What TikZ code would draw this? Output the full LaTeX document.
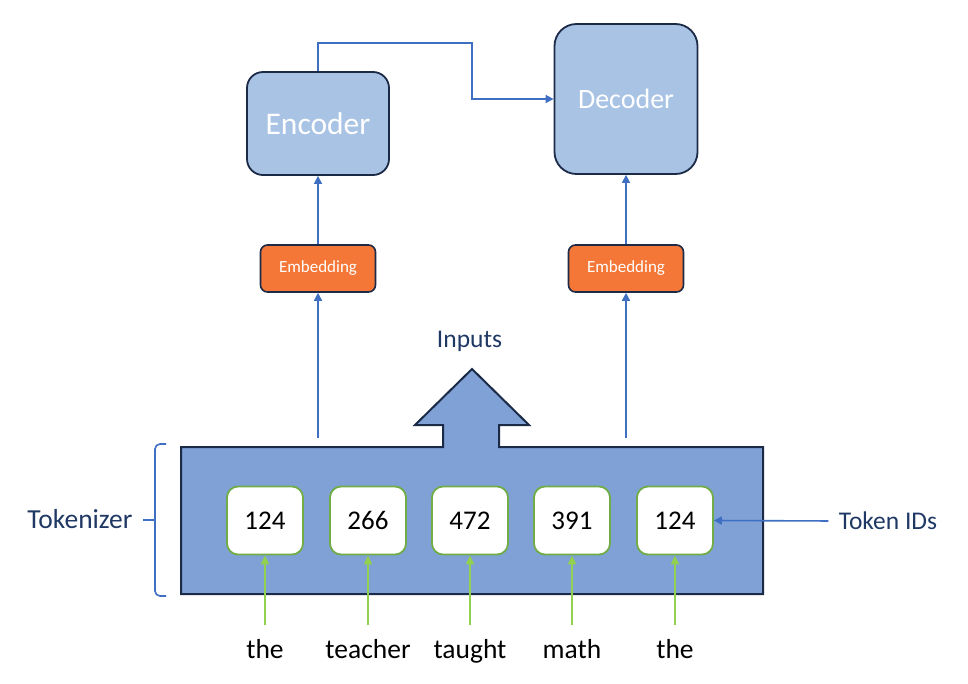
\documentclass[tikz,border=0pt]{standalone}
\usepackage{fontspec}
\setmainfont{Carlito}
\usetikzlibrary{arrows.meta}
\definecolor{navy}{HTML}{1F3864}
\definecolor{boxline}{HTML}{1B2A47}
\definecolor{encfill}{HTML}{A9C3E5}
\definecolor{tokfill}{HTML}{7FA1D5}
\definecolor{embfill}{HTML}{F47738}
\definecolor{linkblue}{HTML}{3F6FC2}
\definecolor{tokgreen}{HTML}{70AD47}
\definecolor{feedgreen}{HTML}{92D050}
\begin{document}
\begin{tikzpicture}[x=1pt,y=-1pt,
    block/.style={draw=boxline,line width=1.8pt,fill=encfill,text=white},
    embed/.style={draw=boxline,line width=1.6pt,fill=embfill,rounded corners=7pt,
                  minimum width=115pt,minimum height=47pt,text=white,
                  font=\fontsize{17}{17}\selectfont},
    token/.style={draw=tokgreen,line width=1.8pt,fill=white,rounded corners=11pt,
                  minimum width=76pt,minimum height=68pt,font=\fontsize{27}{27}\selectfont},
    label/.style={text=navy,font=\fontsize{25.5}{25.5}\selectfont},
    link/.style={draw=linkblue,line width=1.6pt,-{Triangle[length=8pt,width=8pt]}},
    feed/.style={draw=feedgreen,line width=2pt,-{Triangle[length=9pt,width=8pt]}}]
  \useasboundingbox (0,0) rectangle (968,683);
  % tokenizer with the inputs arrow
  \draw[draw=boxline,line width=2pt,fill=tokfill]
        (181,447) -- (443,447) -- (443,425) -- (415,425) -- (472,369)
        -- (529,425) -- (499,425) -- (499,447) -- (763,447) -- (763,594)
        -- (181,594) -- cycle;
  \coordinate (inL) at (318,438);
  \coordinate (inR) at (626,438);
  \node[label] (inputs) at (469.5,341) {Inputs};
  % encoder and decoder
  \node[block,rounded corners=16pt,minimum width=142pt,minimum height=103pt,
        font=\fontsize{31.5}{31.5}\selectfont] (enc) at (318,123.5) {Encoder};
  \node[block,rounded corners=22pt,minimum width=143pt,minimum height=150pt,
        font=\fontsize{28}{28}\selectfont] (dec) at (626,99) {Decoder};
  \node[embed] (embL) at (318,268.5) {Embedding};
  \node[embed] (embR) at (626,268.5) {Embedding};
  \draw[link] (embL) -- (enc);
  \draw[link] (embR) -- (dec);
  \draw[link] (inL) -- (embL);
  \draw[link] (inR) -- (embR);
  \draw[link] (enc.north) |- (472,43) |- (dec.west);
  % tokens
  \foreach \i/\x/\id/\w in {1/265/124/the,2/368/266/teacher,3/470/472/taught,
                            4/572/391/math,5/675/124/the} {
    \node[token] (tok\i) at (\x,520.5) {\id};
    \node[anchor=base,font=\fontsize{27.5}{27.5}\selectfont] (w\i) at (\x,658) {\w};
    \draw[feed,shorten <=10pt] (w\i.north) -- (tok\i.south);
  }
  \node[label] (tokids) at (888,521) {Token IDs};
  \draw[link,shorten <=7pt] (tokids.west) -- (tok5.east);
  % brace
  \node[label,font=\fontsize{27.5}{27.5}\selectfont] (tokenizer) at (80,519) {Tokenizer};
  \draw[linkblue,line width=1.6pt,rounded corners=5pt] (166,444) -| (155,596) -- (166,596);
  \draw[linkblue,line width=1.6pt] (143,520) -- (155,520);
\end{tikzpicture}
\end{document}
